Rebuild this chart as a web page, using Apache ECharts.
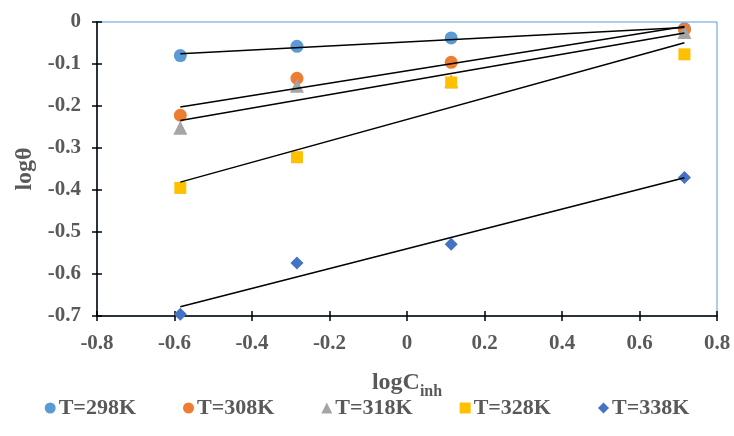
<!DOCTYPE html>
<html>
<head>
<meta charset="utf-8">
<script src="https://cdn.jsdelivr.net/npm/echarts@6/dist/echarts.min.js"></script>
<style>
  html, body { margin: 0; padding: 0; background: #fff; }
  #chart { width: 734px; height: 436px; }
</style>
</head>
<body>
<div id="chart"></div>
<script>
// Inhibitor concentration (log scale) and surface coverage (log) per temperature
const logC = [-0.585, -0.284, 0.114, 0.716];
const seriesNames = ['T=298K', 'T=308K', 'T=318K', 'T=328K', 'T=338K'];
const t298 = [-0.080, -0.058, -0.038, -0.016];
const t308 = [-0.222, -0.134, -0.096, -0.018];
const t318 = [-0.252, -0.152, -0.141, -0.024];
const t328 = [-0.395, -0.322, -0.144, -0.077];
const t338 = [-0.696, -0.574, -0.529, -0.370];
const xTicks = { min: -0.8, max: 0.8, interval: 0.2 };
const yTicks = { min: -0.7, max: 0, interval: 0.1 };

const values = [t298, t308, t318, t328, t338];
const colors = ['#5B9BD5', '#ED7D31', '#A5A5A5', '#FFC000', '#4472C4'];
const symbols = ['circle', 'circle', 'triangle', 'rect', 'diamond'];
const symbolSizes = [13, 13, 14, 12, 13];

// Least-squares linear fit, evaluated at the first and last concentration
function linearFit(xs, ys) {
  const n = xs.length;
  const mx = xs.reduce((a, b) => a + b, 0) / n;
  const my = ys.reduce((a, b) => a + b, 0) / n;
  let sxy = 0, sxx = 0;
  for (let i = 0; i < n; i++) {
    sxy += (xs[i] - mx) * (ys[i] - my);
    sxx += (xs[i] - mx) * (xs[i] - mx);
  }
  const k = sxy / sxx;
  const b = my - k * mx;
  const x0 = Math.min(...xs), x1 = Math.max(...xs);
  return [[x0, k * x0 + b], [x1, k * x1 + b]];
}

const font = "'Liberation Serif', 'Times New Roman', serif";
const labelColor = '#595959';

// Plot box inside the 734x436 canvas
const gridBox = { left: 97, right: 17, top: 22, bottom: 120 };
const plotW = 734 - gridBox.left - gridBox.right;
const plotH = 436 - gridBox.top - gridBox.bottom;

const scatterSeries = values.map((ys, i) => ({
  name: seriesNames[i],
  type: 'scatter',
  symbol: symbols[i],
  symbolSize: symbolSizes[i],
  itemStyle: { color: colors[i], opacity: 1 },
  data: logC.map((x, j) => [x, ys[j]]),
  z: 2 + i * 0.1
}));

// Fit lines live on the twin axes (same range) that carry the inner tick marks
const trendSeries = values.map((ys, i) => ({
  name: seriesNames[i] + ' fit',
  type: 'line',
  xAxisIndex: 1,
  yAxisIndex: 1,
  data: linearFit(logC, ys),
  showSymbol: false,
  symbol: 'none',
  silent: true,
  lineStyle: { color: '#000', width: 1.5 },
  z: 5
}));

const lineStyle = { color: '#000', width: 1.5 };
const hiddenLine = { color: 'rgba(0,0,0,0)', width: 1 };

const chart = echarts.init(document.getElementById('chart'), null, { renderer: 'canvas' });
chart.setOption({
  animation: false,
  backgroundColor: '#fff',
  grid: Object.assign({
    show: true, borderColor: '#5B9BD5', borderWidth: 1, backgroundColor: 'transparent'
  }, gridBox),
  legend: {
    data: seriesNames,
    bottom: 12,
    left: 'center',
    itemWidth: 11,
    itemHeight: 11,
    itemGap: 47,
    textStyle: { fontFamily: font, fontWeight: 'bold', fontSize: 22, color: labelColor, padding: [0, 0, 0, -2] }
  },
  xAxis: [{
    type: 'value',
    min: xTicks.min, max: xTicks.max, interval: xTicks.interval,
    position: 'bottom',
    name: '{a|logC}{b|inh}',
    nameLocation: 'middle',
    nameGap: 51,
    nameTextStyle: {
      rich: {
        a: { fontFamily: font, fontWeight: 'bold', fontSize: 24, color: labelColor, verticalAlign: 'bottom', lineHeight: 28 },
        b: { fontFamily: font, fontWeight: 'bold', fontSize: 16, color: labelColor, verticalAlign: 'bottom', lineHeight: 20, padding: [0, 0, -5, 0] }
      }
    },
    axisLine: { show: true, onZero: false, lineStyle: lineStyle },
    axisTick: { show: true, length: 5, lineStyle: lineStyle },
    axisLabel: { fontFamily: font, fontWeight: 'bold', fontSize: 21, color: labelColor, margin: 17 },
    splitLine: { show: false }
  }, {
    // twin axis moved down onto the bottom edge; its outward ticks point up into the plot
    type: 'value',
    min: xTicks.min, max: xTicks.max, interval: xTicks.interval,
    position: 'top',
    offset: -plotH,
    axisLine: { show: true, onZero: false, lineStyle: hiddenLine },
    axisTick: { show: true, length: 5, lineStyle: lineStyle },
    axisLabel: { show: false },
    splitLine: { show: false }
  }],
  yAxis: [{
    type: 'value',
    min: yTicks.min, max: yTicks.max, interval: yTicks.interval,
    position: 'left',
    name: 'logθ',
    nameLocation: 'middle',
    nameGap: 60,
    nameTextStyle: { fontFamily: font, fontWeight: 'bold', fontSize: 24, color: labelColor },
    axisLine: { show: true, onZero: false, lineStyle: lineStyle },
    axisTick: { show: true, length: 5, lineStyle: lineStyle },
    axisLabel: { fontFamily: font, fontWeight: 'bold', fontSize: 21, color: labelColor, margin: 16 },
    splitLine: { show: false }
  }, {
    // twin axis moved left onto the left edge; its outward ticks point right into the plot
    type: 'value',
    min: yTicks.min, max: yTicks.max, interval: yTicks.interval,
    position: 'right',
    offset: -plotW,
    axisLine: { show: true, onZero: false, lineStyle: hiddenLine },
    axisTick: { show: true, length: 5, lineStyle: lineStyle },
    axisLabel: { show: false },
    splitLine: { show: false }
  }],
  series: scatterSeries.concat(trendSeries)
});
</script>
</body>
</html>
